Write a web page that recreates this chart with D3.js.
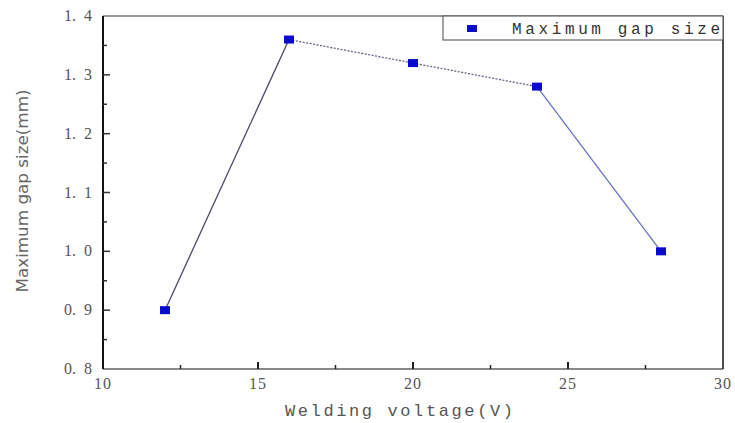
<!DOCTYPE html>
<html>
<head>
<meta charset="utf-8">
<script src="https://cdn.jsdelivr.net/npm/d3@7"></script>
<style>
  body { margin: 0; background: #fff; }
  svg { display: block; }
</style>
</head>
<body>
<div id="chart"></div>
<script>
const voltage = [12, 16, 20, 24, 28];
const gapSize = [0.90, 1.36, 1.32, 1.28, 1.00];
// style of the segment that leaves each point
const segStyle = ["solid", "dotted", "dotted", "solid"];
const xTicks = [10, 15, 20, 25, 30];
const yTicks = [0.8, 0.9, 1.0, 1.1, 1.2, 1.3, 1.4];
const seriesName = "Maximum gap size";

const width = 735, height = 423;
const margin = {left: 103, right: 12, top: 16, bottom: 54};

const svg = d3.select("#chart").append("svg")
    .attr("width", width)
    .attr("height", height);

const x = d3.scaleLinear().domain([10, 30]).range([margin.left, width - margin.right]);
const y = d3.scaleLinear().domain([0.8, 1.4]).range([height - margin.bottom, margin.top]);

const x0 = x.range()[0], x1 = x.range()[1];
const y0 = y.range()[0], y1 = y.range()[1];

// frame
svg.append("line").attr("x1", x0).attr("x2", x1).attr("y1", y1).attr("y2", y1)
    .attr("stroke", "#999").attr("stroke-width", 2);
svg.append("line").attr("x1", x0).attr("x2", x1).attr("y1", y0).attr("y2", y0)
    .attr("stroke", "#888").attr("stroke-width", 2);
svg.append("line").attr("x1", x1).attr("x2", x1).attr("y1", y1).attr("y2", y0)
    .attr("stroke", "#111").attr("stroke-width", 1.5);
svg.append("line").attr("x1", x0).attr("x2", x0).attr("y1", y1).attr("y2", y0)
    .attr("stroke", "#111").attr("stroke-width", 2);

// ticks (inward)
const yMinor = d3.range(0.85, 1.4, 0.1);
svg.selectAll(".ytick").data(yTicks.slice(1, -1)).enter().append("line")
    .attr("x1", x0).attr("x2", x0 + 7)
    .attr("y1", d => y(d)).attr("y2", d => y(d))
    .attr("stroke", "#333").attr("stroke-width", 1.5);
svg.selectAll(".yminor").data(yMinor).enter().append("line")
    .attr("x1", x0).attr("x2", x0 + 4)
    .attr("y1", d => y(d)).attr("y2", d => y(d))
    .attr("stroke", "#333").attr("stroke-width", 1.5);

const xMinor = d3.range(12.5, 30, 5);
svg.selectAll(".xtick").data(xTicks.slice(1, -1)).enter().append("line")
    .attr("x1", d => x(d)).attr("x2", d => x(d))
    .attr("y1", y0).attr("y2", y0 - 7)
    .attr("stroke", "#222").attr("stroke-width", 2);
svg.selectAll(".xminor").data(xMinor).enter().append("line")
    .attr("x1", d => x(d)).attr("x2", d => x(d))
    .attr("y1", y0).attr("y2", y0 - 4)
    .attr("stroke", "#222").attr("stroke-width", 1.5);

// tick labels
const labelFont = "'Liberation Serif', 'Times New Roman', serif";
svg.selectAll(".ylab").data(yTicks).enter().append("text")
    .attr("x", x0 - 11).attr("y", d => y(d) + 5)
    .attr("text-anchor", "end")
    .attr("font-family", labelFont).attr("font-size", 16)
    .attr("fill", "#555")
    .attr("xml:space", "preserve")
    .text(d => d.toFixed(1).replace(".", ".  "));

svg.selectAll(".xlab").data(xTicks).enter().append("text")
    .attr("x", d => x(d)).attr("y", y0 + 20)
    .attr("text-anchor", "middle")
    .attr("font-family", labelFont).attr("font-size", 16)
    .attr("letter-spacing", 1)
    .attr("fill", "#555")
    .text(d => d);

// axis titles
svg.append("text")
    .attr("x", 285).attr("y", 416)
    .attr("font-family", "'Liberation Mono', monospace").attr("font-size", 17)
    .attr("textLength", 228).attr("lengthAdjust", "spacing")
    .attr("fill", "#555")
    .text("Welding voltage(V)");

svg.append("text")
    .attr("transform", `translate(28, ${191}) rotate(-90)`)
    .attr("text-anchor", "middle")
    .attr("font-family", "'Liberation Sans Narrow', 'DejaVu Sans Condensed', sans-serif")
    .attr("font-size", 16)
    .attr("textLength", 203).attr("lengthAdjust", "spacingAndGlyphs")
    .attr("fill", "#666")
    .text("Maximum gap size(mm)");

// line segments
const pts = voltage.map((v, i) => ({x: v, y: gapSize[i]}));
const segs = d3.pairs(pts).map((p, i) => ({a: p[0], b: p[1], style: segStyle[i]}));
svg.selectAll(".seg").data(segs).enter().append("line")
    .attr("x1", d => x(d.a.x)).attr("y1", d => y(d.a.y))
    .attr("x2", d => x(d.b.x)).attr("y2", d => y(d.b.y))
    .attr("stroke", (d, i) => i === segs.length - 1 ? "#6a72c0" : (d.style === "dotted" ? "#666680" : "#4a4a6a"))
    .attr("stroke-width", 1.3)
    .attr("stroke-dasharray", d => d.style === "dotted" ? "2,1.5" : null);

// markers
svg.selectAll(".pt").data(pts).enter().append("rect")
    .attr("x", d => x(d.x) - 5).attr("y", d => y(d.y) - 4)
    .attr("width", 10).attr("height", 8)
    .attr("fill", "#0a0acc");

// legend
const lg = svg.append("g");
lg.append("rect")
    .attr("x", 443).attr("y", y1).attr("width", x1 - 443).attr("height", 24)
    .attr("fill", "#fff").attr("stroke", "#666").attr("stroke-width", 1.2);
lg.append("rect")
    .attr("x", 467).attr("y", y1 + 9).attr("width", 10).attr("height", 7)
    .attr("fill", "#0a0acc");
lg.append("text")
    .attr("x", 512).attr("y", y1 + 18)
    .attr("font-family", "'Liberation Mono', monospace").attr("font-size", 16)
    .attr("textLength", 208).attr("lengthAdjust", "spacing")
    .attr("fill", "#333")
    .text(seriesName);
</script>
</body>
</html>
